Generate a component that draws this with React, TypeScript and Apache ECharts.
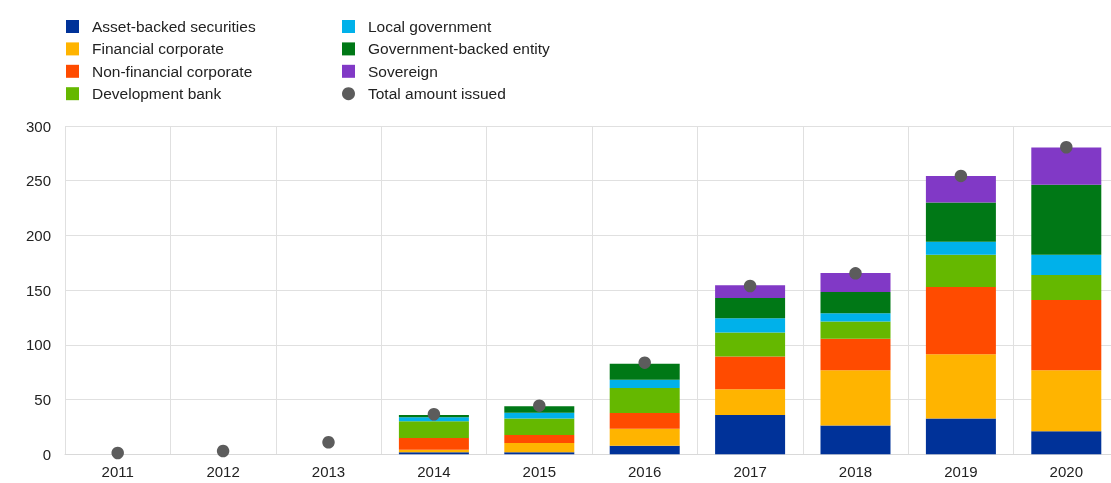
import React, { useEffect, useRef } from "react";
import * as echarts from "echarts";

const years = ["2011", "2012", "2013", "2014", "2015", "2016", "2017", "2018", "2019", "2020"];
const assetBacked = [0, 0, 0, 1.8, 1.8, 7.9, 36, 26.4, 32.8, 21];
const financialCorporate = [0, 0, 0, 2.3, 8.5, 15.5, 23.4, 50.5, 58.7, 55.9];
const nonFinancialCorporate = [0, 0, 0, 10.9, 7.3, 14.3, 30, 28.6, 61.4, 64.1];
const developmentBank = [0, 0, 0, 15.2, 15.2, 22.8, 22, 15.8, 29.5, 22.8];
const localGovernment = [0, 0, 0, 3.6, 5.2, 7.6, 13, 7.6, 11.8, 18.6];
const governmentBacked = [0, 0, 0, 2, 6, 14.6, 18.5, 19.4, 35.8, 64];
const sovereign = [0, 0, 0, 0, 0, 0, 11.5, 17.4, 24.4, 34];
const totalIssued = [1.2, 3, 11, 36.6, 44.4, 83.7, 153.8, 165.4, 254.4, 280.6];
const yTicks = [0, 50, 100, 150, 200, 250, 300];

const barSeries = [
  { name: "Asset-backed securities", data: assetBacked, color: "#003299" },
  { name: "Financial corporate", data: financialCorporate, color: "#FFB400" },
  { name: "Non-financial corporate", data: nonFinancialCorporate, color: "#FF4B00" },
  { name: "Development bank", data: developmentBank, color: "#65B800" },
  { name: "Local government", data: localGovernment, color: "#00B1EA" },
  { name: "Government-backed entity", data: governmentBacked, color: "#007816" },
  { name: "Sovereign", data: sovereign, color: "#8139C6" },
];

export default function App() {
  const ref = useRef<HTMLDivElement>(null);
  useEffect(() => {
    if (!ref.current) return;
    const chart = echarts.init(ref.current, null, { renderer: "svg" });
    const font = "'Liberation Sans', Arial, sans-serif";
    const legendCommon = {
      orient: "vertical",
      top: 18.5,
      padding: 0,
      itemWidth: 13,
      itemHeight: 13,
      itemGap: 6.4,
      icon: "rect",
      selectedMode: false,
      textStyle: { fontSize: 15.5, color: "#222", fontFamily: font, lineHeight: 13, padding: [0, 0, 0, 8] },
    };
    chart.setOption({
      animation: false,
      textStyle: { fontFamily: font },
      legend: [
        {
          ...legendCommon,
          left: 66,
          data: barSeries.slice(0, 4).map((s) => s.name),
        },
        {
          ...legendCommon,
          left: 342,
          data: [
            ...barSeries.slice(4).map((s) => ({ name: s.name, icon: "rect" })),
            { name: "Total amount issued", icon: "circle" },
          ],
        },
      ],
      grid: { left: 65, right: 0, top: 126, bottom: 28.7, containLabel: false },
      xAxis: {
        type: "category",
        data: years,
        axisLine: { show: true, lineStyle: { color: "#d9d9d9", width: 1 } },
        axisTick: { show: false },
        axisLabel: { fontSize: 15, color: "#222", margin: 10, fontFamily: font },
        splitLine: { show: true, lineStyle: { color: "#e0e0e0", width: 1 } },
      },
      yAxis: {
        type: "value",
        min: 0,
        max: 300,
        interval: 50,
        axisLine: { show: false },
        axisTick: { show: false },
        axisLabel: {
          fontSize: 15,
          color: "#222",
          margin: 14,
          fontFamily: font,
          formatter: (v: number) => (yTicks.includes(v) ? String(v) : ""),
        },
        splitLine: { show: true, lineStyle: { color: "#e0e0e0", width: 1 } },
      },
      series: [
        ...barSeries.map((s) => ({
          name: s.name,
          type: "bar",
          stack: "total",
          data: s.data,
          barWidth: 70,
          itemStyle: { color: s.color },
          emphasis: { disabled: true },
        })),
        {
          name: "Total amount issued",
          type: "scatter",
          data: totalIssued,
          symbol: "circle",
          symbolSize: 12.5,
          itemStyle: { color: "#5C5C5C", opacity: 1 },
          emphasis: { disabled: true },
          z: 10,
        },
      ],
    });
    return () => chart.dispose();
  }, []);
  return <div ref={ref} style={{ position: "fixed", left: 0, top: 0, width: 1119, height: 483 }} />;
}
